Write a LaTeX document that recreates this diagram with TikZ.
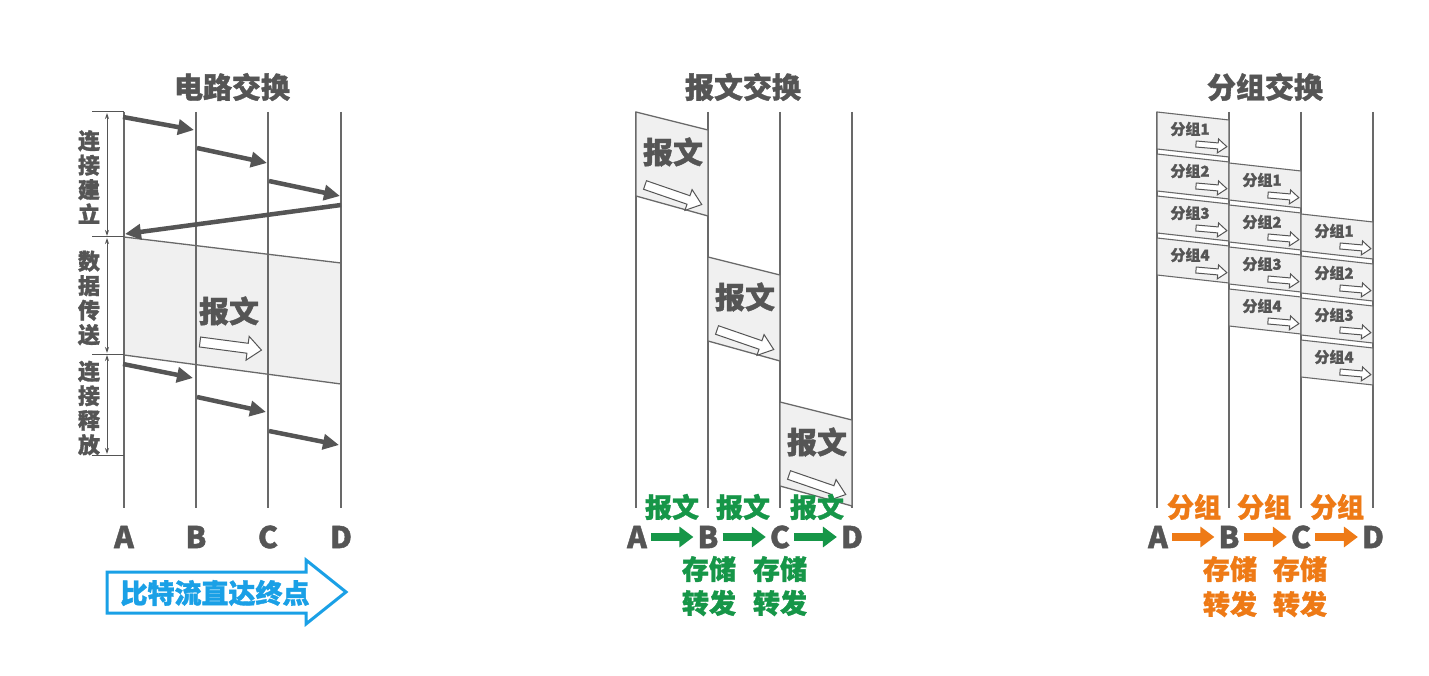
\documentclass[tikz,border=0pt]{standalone}
\usepackage{fontspec}
\setmainfont{Noto Sans CJK SC}[BoldFeatures={FakeBold=1.3}]
\usetikzlibrary{arrows.meta}
\definecolor{ink}{RGB}{85,85,85}
\definecolor{linegray}{RGB}{105,105,105}
\definecolor{fillgray}{RGB}{240,240,240}
\definecolor{mygreen}{RGB}{22,150,72}
\definecolor{myorange}{RGB}{238,122,22}
\definecolor{myblue}{RGB}{26,160,230}
% tail x, tail y, rotation, length, body half height, head half height, head length
\newcommand{\hollowarr}[7]{%
  \begin{scope}[shift={(#1,#2)},rotate=#3]
    \draw[draw=ink,line width=1pt,fill=white,line join=miter]
      (0,-#5) -- ({#4-#7},-#5) -- ({#4-#7},-#6) -- (#4,0) -- ({#4-#7},#6) -- ({#4-#7},#5) -- (0,#5) -- cycle;
  \end{scope}}
\begin{document}
\begin{tikzpicture}[x=1pt,y=-1pt,
  vline/.style={draw=linegray,line width=1.4pt},
  edge/.style={draw=linegray,line width=1.3pt},
  darrow/.style={draw=ink,line width=4.5pt,-{Triangle[length=16pt,width=15pt]}},
  bracket/.style={draw=ink,line width=1pt,{Stealth[length=6pt,width=4pt]}-{Stealth[length=6pt,width=4pt]}},
  title/.style={font=\bfseries\fontsize{29}{30}\selectfont,text=ink,inner sep=0pt},
  letter/.style={font=\bfseries\fontsize{30}{30}\selectfont,text=ink,inner sep=2pt},
  glabel/.style={font=\bfseries\fontsize{27}{30}\selectfont,text=mygreen,inner sep=0pt},
  olabel/.style={font=\bfseries\fontsize{27}{30}\selectfont,text=myorange,inner sep=0pt},
  vlabel/.style={font=\bfseries\fontsize{22}{24.5}\selectfont,text=ink,align=center,inner sep=0pt},
  bigtext/.style={font=\bfseries\fontsize{30}{32}\selectfont,text=ink,inner sep=0pt},
  ptext/.style={font=\bfseries\fontsize{15}{16}\selectfont,text=ink,inner sep=0pt},
  garrow/.style={draw=mygreen,line width=8pt,-{Triangle[length=14pt,width=20pt]},shorten <=2pt,shorten >=2pt},
  oarrow/.style={draw=myorange,line width=8pt,-{Triangle[length=14pt,width=20pt]},shorten <=2pt,shorten >=2pt},
]
\useasboundingbox (0,0) rectangle (1429,676);
\fill[white] (0,0) rectangle (1429,676);

%% ================= circuit switching =================
\node[title] (t1) at (232,87) {电路交换};
\fill[fillgray] (124,237) -- (341,263) -- (341,384) -- (124,355) -- cycle;
\foreach \x/\n in {124/A,196/B,268/C,341/D}{
  \coordinate (c\n t) at (\x,112);
  \coordinate (c\n b) at (\x,508);
  \draw[vline] (c\n t) -- (c\n b);
}
\draw[edge] (124,237) -- (341,263);
\draw[edge] (124,355) -- (341,384);
\node[bigtext] (cmsg) at (229,311) {报文};
\hollowarr{200}{342}{-7.5}{62}{5}{12}{14}
% bracket
\draw[ink,line width=1pt] (92,112) -- (124,112) (92,237) -- (124,237) (92,354) -- (124,354) (92,455) -- (124,455);
\draw[bracket] (107,113) -- (107,236);
\draw[bracket] (107,238) -- (107,353);
\draw[bracket] (107,355) -- (107,454);
\node[vlabel] (v1) at (89,177) {连\\接\\建\\立};
\node[vlabel] (v2) at (89,298) {数\\据\\传\\送};
\node[vlabel] (v3) at (89,408) {连\\接\\释\\放};
% setup arrows
\coordinate (s1a) at (123,117); \coordinate (s1b) at (194,130);
\coordinate (s2a) at (197,148); \coordinate (s2b) at (267,163);
\coordinate (s3a) at (269,181); \coordinate (s3b) at (340,196);
\coordinate (s4a) at (341,205); \coordinate (s4b) at (125,234);
\draw[darrow] (s1a) -- (s1b);
\draw[darrow] (s2a) -- (s2b);
\draw[darrow] (s3a) -- (s3b);
\draw[darrow] (s4a) -- (s4b);
% release arrows
\coordinate (r1a) at (123,364); \coordinate (r1b) at (193,378);
\coordinate (r2a) at (197,397); \coordinate (r2b) at (266,412);
\coordinate (r3a) at (269,431); \coordinate (r3b) at (339,445);
\draw[darrow] (r1a) -- (r1b);
\draw[darrow] (r2a) -- (r2b);
\draw[darrow] (r3a) -- (r3b);
\foreach \x/\n in {124/A,196/B,268/C,341/D}{
  \node[letter] (cl\n) at (\x,537) {\n};
}
% blue arrow
\draw[myblue,line width=3pt,line join=miter] (107,572) -- (306,572) -- (306,560) -- (346,592) -- (306,624) -- (306,613) -- (107,613) -- cycle;
\node[font=\bfseries\fontsize{27}{30}\selectfont,text=myblue,inner sep=0pt] (bitflow) at (215,593) {比特流直达终点};

%% ================= message switching =================
\node[title] (t2) at (743,87) {报文交换};
\foreach \x/\n in {636/A,708/B,780/C,852/D}{
  \coordinate (m\n t) at (\x,112);
  \coordinate (m\n b) at (\x,508);
  \draw[vline] (m\n t) -- (m\n b);
}
\foreach \x/\y/\i in {636/112/1,708/257/2,780/402/3}{
  \filldraw[fill=fillgray,edge] (\x,\y) -- (\x+72,\y+18) -- (\x+72,\y+104) -- (\x,\y+84) -- cycle;
  \node[bigtext] (msg\i) at (\x+37,\y+40) {报文};
  \hollowarr{\x+9}{\y+73}{-19}{60}{4.5}{11}{14}
}
\node[glabel] (mg1) at (672,507) {报文};
\node[glabel] (mg2) at (743,507) {报文};
\node[glabel] (mg3) at (817,507) {报文};
\node[letter] (mlA) at (637,537) {A};
\node[letter] (mlB) at (708,537) {B};
\node[letter] (mlC) at (780,537) {C};
\node[letter] (mlD) at (852,537) {D};
\draw[garrow] (mlA) -- (mlB);
\draw[garrow] (mlB) -- (mlC);
\draw[garrow] (mlC) -- (mlD);
\node[glabel] (ms1) at (709,569) {存储};
\node[glabel] (ms2) at (780,569) {存储};
\node[glabel] (mf1) at (709,603) {转发};
\node[glabel] (mf2) at (780,603) {转发};

%% ================= packet switching =================
\node[title] (t3) at (1265,87) {分组交换};
\foreach \x/\n in {1157/A,1229/B,1301/C,1373/D}{
  \coordinate (p\n t) at (\x,112);
  \coordinate (p\n b) at (\x,508);
  \draw[vline] (p\n t) -- (p\n b);
}
\foreach \j in {0,1,2}{
  \foreach \k in {1,2,3,4}{
    \pgfmathsetmacro{\xa}{1157+72*\j}
    \pgfmathsetmacro{\ya}{112+42*(\k-1)+51*\j}
    \filldraw[fill=fillgray,draw=linegray,line width=1.1pt] (\xa,\ya) -- (\xa+72,\ya+8) -- (\xa+72,\ya+45) -- (\xa,\ya+37) -- cycle;
    \node[ptext] (pk\j\k) at (\xa+33,\ya+17) {分组\k};
    \hollowarr{\xa+39}{\ya+32}{-5}{31}{3}{7}{9}
  }
}
\node[olabel] (pg1) at (1194,507) {分组};
\node[olabel] (pg2) at (1264,507) {分组};
\node[olabel] (pg3) at (1337,507) {分组};
\node[letter] (plA) at (1158,537) {A};
\node[letter] (plB) at (1229,537) {B};
\node[letter] (plC) at (1301,537) {C};
\node[letter] (plD) at (1373,537) {D};
\draw[oarrow] (plA) -- (plB);
\draw[oarrow] (plB) -- (plC);
\draw[oarrow] (plC) -- (plD);
\node[olabel] (ps1) at (1230,569) {存储};
\node[olabel] (ps2) at (1300,569) {存储};
\node[olabel] (pf1) at (1230,604) {转发};
\node[olabel] (pf2) at (1300,604) {转发};
\end{tikzpicture}
\end{document}
